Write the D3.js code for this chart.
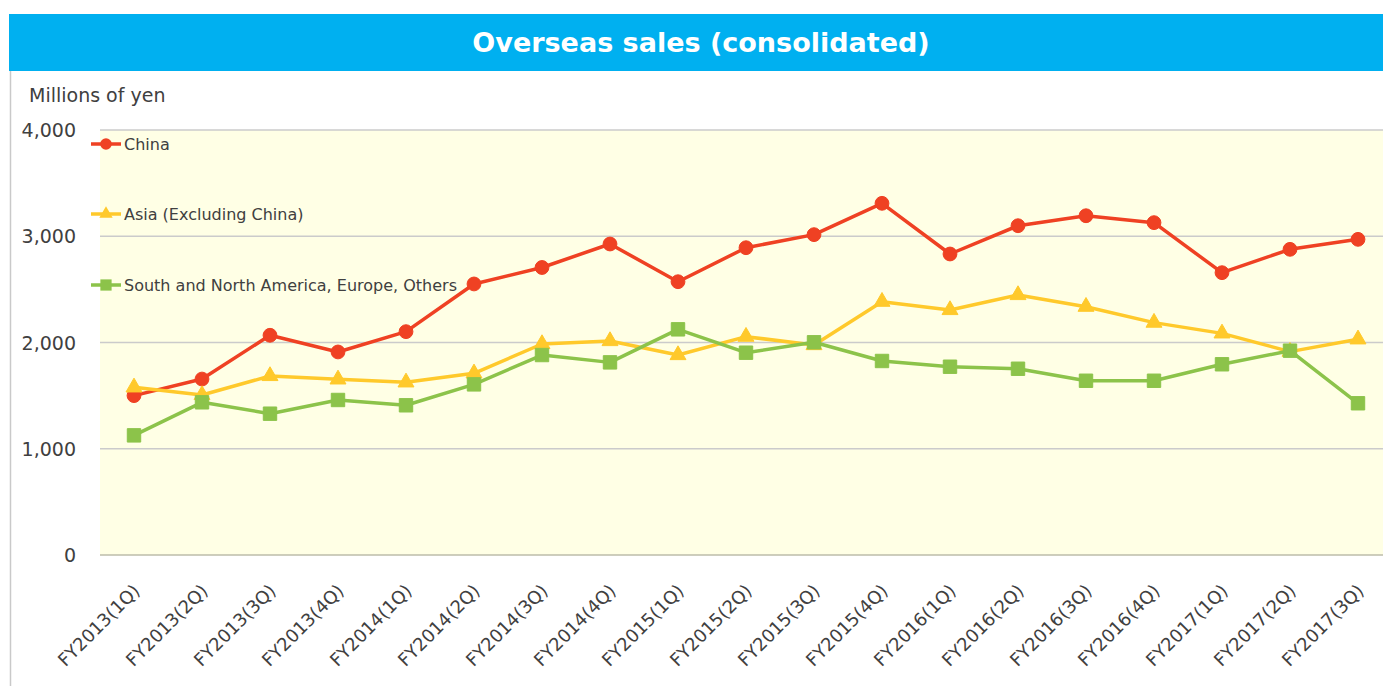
<!DOCTYPE html>
<html>
<head>
<meta charset="utf-8">
<script src="https://cdn.jsdelivr.net/npm/d3@7"></script>
<style>
  body { margin: 0; background: #fff; }
  svg { display: block; font-family: "DejaVu Sans", Verdana, sans-serif; }
</style>
</head>
<body>
<svg id="chart" width="1383" height="686"></svg>
<script>
// --- DATA ---
const quarters = ["FY2013(1Q)", "FY2013(2Q)", "FY2013(3Q)", "FY2013(4Q)", "FY2014(1Q)", "FY2014(2Q)",
  "FY2014(3Q)", "FY2014(4Q)", "FY2015(1Q)", "FY2015(2Q)", "FY2015(3Q)", "FY2015(4Q)", "FY2016(1Q)",
  "FY2016(2Q)", "FY2016(3Q)", "FY2016(4Q)", "FY2017(1Q)", "FY2017(2Q)", "FY2017(3Q)"];
const china = [1500, 1656, 2068, 1911, 2102, 2551, 2706, 2927, 2572, 2892, 3015, 3310, 2833, 3099, 3193, 3128, 2657, 2877, 2971];
const asia = [1578, 1506, 1685, 1653, 1625, 1710, 1986, 2014, 1882, 2055, 1976, 2384, 2306, 2447, 2337, 2187, 2086, 1914, 2030];
const others = [1126, 1437, 1330, 1459, 1409, 1606, 1882, 1813, 2124, 1904, 2002, 1826, 1772, 1753, 1640, 1640, 1795, 1923, 1428];
const yTicks = [0, 1000, 2000, 3000, 4000];

const seriesList = [
  { name: "China", values: china, color: "#EF4123", shape: "circle", legendY: 144 },
  { name: "Asia (Excluding China)", values: asia, color: "#FFC92B", shape: "triangle", legendY: 214 },
  { name: "South and North America, Europe, Others", values: others, color: "#8CC34A", shape: "square", legendY: 285 }
];

// --- SETUP ---
const svg = d3.select("#chart");
const W = 1383, H = 686;

// title bar
svg.append("rect").attr("x", 9).attr("y", 14).attr("width", W - 9).attr("height", 57).attr("fill", "#00B0F0");
svg.append("text").attr("x", 701).attr("y", 52).attr("text-anchor", "middle")
  .attr("fill", "#fff").attr("font-size", 27).attr("font-weight", "bold")
  .text("Overseas sales (consolidated)");
svg.append("line").attr("x1", 10.5).attr("x2", 10.5).attr("y1", 71).attr("y2", H)
  .attr("stroke", "#c9c9c9").attr("stroke-width", 1.5);

const x = d3.scalePoint().domain(quarters).range([134, 1358]);
const y = d3.scaleLinear().domain([0, 4000]).range([555, 130]);

// plot background
svg.append("rect").attr("x", 100).attr("y", y(4000)).attr("width", W - 100).attr("height", y(0) - y(4000))
  .attr("fill", "#FFFFE5");

// gridlines
svg.append("g").selectAll("line").data(yTicks).join("line")
  .attr("x1", 100).attr("x2", W)
  .attr("y1", d => y(d)).attr("y2", d => y(d))
  .attr("stroke", d => d === 0 ? "#bcbcaa" : "#cbcbcb").attr("stroke-width", 1.3);

svg.append("g").selectAll("text").data(yTicks).join("text")
  .attr("x", 76).attr("y", d => y(d) + 7).attr("text-anchor", "end")
  .attr("font-size", 19).attr("fill", "#404040")
  .text(d3.format(","));

svg.append("text").attr("x", 29).attr("y", 102).attr("font-size", 19).attr("fill", "#404040")
  .text("Millions of yen");

// x labels
svg.append("g").selectAll("text").data(quarters).join("text")
  .attr("transform", d => `translate(${x(d) + 7},${592}) rotate(-45)`)
  .attr("text-anchor", "end").attr("font-size", 18).attr("fill", "#404040")
  .text(d => d);

// --- SERIES ---
const line = d3.line().x((d, i) => x(quarters[i])).y(d => y(d));
const symbolFor = { circle: d3.symbolCircle, triangle: d3.symbolTriangle, square: d3.symbolSquare };
const sizeFor = { circle: 150, triangle: 110, square: 180 };

seriesList.forEach(s => {
  const g = svg.append("g");
  g.append("path").datum(s.values).attr("d", line)
    .attr("fill", "none").attr("stroke", s.color).attr("stroke-width", 3.5).attr("stroke-linejoin", "round");
  g.selectAll("path.pt").data(s.values).join("path").attr("class", "pt")
    .attr("transform", (d, i) => `translate(${x(quarters[i])},${y(d)})`)
    .attr("d", d3.symbol().type(symbolFor[s.shape]).size(sizeFor[s.shape]))
    .attr("fill", s.color).attr("stroke", s.color).attr("stroke-width", 1).attr("stroke-linejoin", "round");

  // legend
  const lg = svg.append("g").attr("transform", `translate(0,${s.legendY})`);
  lg.append("line").attr("x1", 91).attr("x2", 121).attr("stroke", s.color).attr("stroke-width", 3.5);
  lg.append("path").attr("transform", "translate(106,0)")
    .attr("d", d3.symbol().type(symbolFor[s.shape]).size(sizeFor[s.shape] * 0.7))
    .attr("fill", s.color);
  lg.append("text").attr("x", 124).attr("y", 6).attr("font-size", 16).attr("fill", "#404040").text(s.name);
});
</script>
</body>
</html>
